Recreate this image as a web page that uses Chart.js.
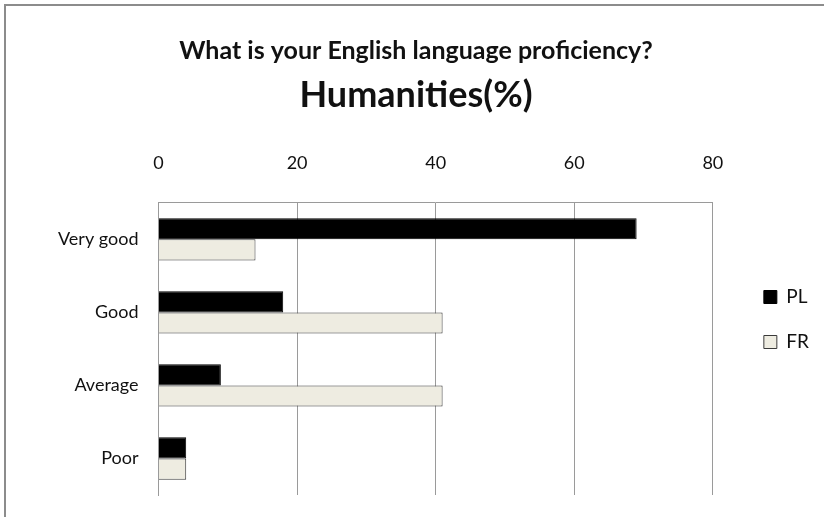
<!DOCTYPE html>
<html>
<head>
<meta charset="utf-8">
<script src="https://cdn.jsdelivr.net/npm/chart.js@4"></script>
<style>
  html, body { margin: 0; padding: 0; background: #fff; overflow: hidden; }
  #wrap { position: relative; width: 824px; height: 517px; }
  #frame { position: absolute; left: 4px; top: 4px; width: 840px; height: 540px; border: 2px solid #8c8c8c; box-sizing: border-box; pointer-events: none; }
  canvas { position: absolute; left: 0; top: 0; }
</style>
</head>
<body>
<div id="wrap">
  <canvas id="chart" width="824" height="517"></canvas>
  <div id="frame"></div>
</div>
<script>
// chart data
const categories = ['Very good', 'Good', 'Average', 'Poor'];
const plValues = [69, 18, 9, 4];
const frValues = [14, 41, 41, 4];
const tickValues = [0, 20, 40, 60, 80];

// nudge the legend to where the original sits (right of plot, a bit lower)
const legendNudge = {
    id: 'legendNudge',
    afterLayout(chart) {
        const lg = chart.legend;
        if (!lg) return;
        lg.left += 25;
        lg.right += 25;
        lg.top += 54;
        lg.bottom += 54;
    }
};

document.addEventListener('DOMContentLoaded', () => {
    const ctx = document.getElementById('chart').getContext('2d');
    Chart.defaults.font.family = 'Lato, "Open Sans", sans-serif';
    Chart.defaults.color = '#111';

    new Chart(ctx, {
        type: 'bar',
        data: {
            labels: categories,
            datasets: [{
                label: 'PL',
                data: plValues,
                backgroundColor: '#000000',
                borderColor: '#000000',
                borderWidth: 1
            }, {
                label: 'FR',
                data: frValues,
                backgroundColor: '#EEECE1',
                borderColor: '#3a3a3a',
                borderWidth: 1
            }]
        },
        plugins: [legendNudge],
        options: {
            indexAxis: 'y',
            responsive: false,
            animation: false,
            categoryPercentage: 0.58,
            barPercentage: 1,
            layout: { padding: { left: 38, right: 30, top: 36, bottom: 22 } },
            plugins: {
                title: {
                    display: true,
                    text: 'What is your English language proficiency?',
                    font: { size: 25, weight: 'bold' },
                    color: '#111',
                    padding: { top: 0, bottom: 8 }
                },
                subtitle: {
                    display: true,
                    text: 'Humanities(%)',
                    font: { size: 36, weight: 'bold' },
                    color: '#111',
                    padding: { top: 0, bottom: 6 }
                },
                legend: {
                    position: 'right',
                    align: 'center',
                    labels: {
                        boxWidth: 13,
                        boxHeight: 13,
                        padding: 26,
                        font: { size: 19 },
                        color: '#111'
                    }
                },
                tooltip: { enabled: false }
            },
            scales: {
                x: {
                    position: 'top',
                    min: 0,
                    max: 80,
                    afterBuildTicks: (axis) => {
                        axis.ticks = tickValues.map(v => ({ value: v }));
                    },
                    grid: {
                        color: '#9a9a9a',
                        lineWidth: 1,
                        drawTicks: false
                    },
                    border: { display: true, color: '#9a9a9a' },
                    ticks: {
                        padding: 29,
                        font: { size: 18 },
                        color: '#111'
                    }
                },
                y: {
                    grid: { display: false, drawTicks: false },
                    border: { display: true, color: '#9a9a9a' },
                    ticks: {
                        padding: 20,
                        font: { size: 18 },
                        color: '#111'
                    },
                    afterFit: (scale) => {
                        scale.paddingTop = 0;
                        scale.paddingBottom = 0;
                    }
                }
            }
        }
    });
});
</script>
</body>
</html>
